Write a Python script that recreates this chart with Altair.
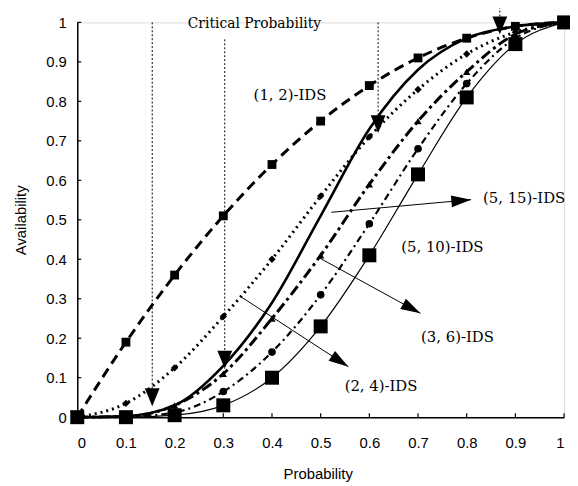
import math
import altair as alt
import pandas as pd

# ---------------- data ----------------
probability = [0.0, 0.1, 0.2, 0.3, 0.4, 0.5, 0.6, 0.7, 0.8, 0.9, 1.0]
avail_1_2 = [0.0, 0.19, 0.36, 0.51, 0.64, 0.75, 0.84, 0.91, 0.96, 0.99, 1.0]
avail_2_4 = [0.0, 0.035, 0.125, 0.255, 0.40, 0.56, 0.71, 0.83, 0.92, 0.975, 1.0]
avail_5_15 = [0.0, 0.003, 0.03, 0.13, 0.29, 0.51, 0.73, 0.88, 0.96, 0.99, 1.0]
avail_3_6 = [0.0, 0.002, 0.03, 0.11, 0.25, 0.41, 0.59, 0.75, 0.875, 0.97, 1.0]
avail_e = [0.0, 0.001, 0.012, 0.065, 0.165, 0.31, 0.49, 0.68, 0.845, 0.96, 1.0]
avail_5_10 = [0.0, 0.0, 0.005, 0.03, 0.10, 0.23, 0.41, 0.615, 0.81, 0.945, 1.0]

tick_values = [0.0, 0.1, 0.2, 0.3, 0.4, 0.5, 0.6, 0.7, 0.8, 0.9, 1.0]

critical_x = [0.154, 0.303, 0.618, 0.868]
critical_top = [1.0, 0.957, 1.0, 1.04]
critical_tip = [0.028, 0.123, 0.72, 0.97]

label_text = ["(1, 2)-IDS", "(5, 15)-IDS", "(5, 10)-IDS", "(3, 6)-IDS", "(2, 4)-IDS"]
label_x = [0.437, 0.918, 0.75, 0.781, 0.624]
label_y = [0.817, 0.554, 0.431, 0.203, 0.078]

arrow_x1 = [0.522, 0.498, 0.335]
arrow_y1 = [0.519, 0.403, 0.306]
arrow_x2 = [0.809, 0.705, 0.557]
arrow_y2 = [0.551, 0.263, 0.128]

title_text = ["Critical Probability"]
title_x = [0.364]
title_y = [0.995]

W, H = 492, 399

series = [
    ("a", avail_1_2, [10, 6], 3.0, "square", 80),
    ("b", avail_2_4, [2, 4], 3.0, "diamond", 55),
    ("c", avail_5_15, None, 2.6, None, 0),
    ("d", avail_3_6, [11, 4, 3, 4], 3.0, "triangle-up", 55),
    ("e", avail_e, [7, 4, 2, 4], 2.2, "circle", 60),
    ("f", avail_5_10, None, 1.2, "square", 200),
]

xs = alt.Scale(domain=[0, 1], nice=False, zero=False)
ys = alt.Scale(domain=[0, 1], nice=False, zero=False)

x_axis = alt.Axis(
    values=tick_values, format="~g", grid=False, ticks=False,
    domainColor="black", domainWidth=1.5,
    labelFont="Liberation Sans", labelFontSize=15, labelColor="black",
    labelPadding=19, title="Probability", titleFont="Liberation Sans",
    titleFontSize=15, titleFontWeight="normal", titleColor="black",
    titleX=243, titleY=57, titleBaseline="middle", titleAlign="center",
)
y_axis = alt.Axis(
    values=tick_values, format="~g", grid=False, ticks=False,
    domainColor="black", domainWidth=1.5,
    labelFont="Liberation Sans", labelFontSize=15, labelColor="black",
    labelPadding=11, title="Availability", titleFont="Liberation Sans",
    titleFontSize=15, titleFontWeight="normal", titleColor="black",
    titleX=-57, titleY=H / 2, titleAngle=270, titleBaseline="middle",
    titleAlign="center",
)


def X(field):
    return alt.X(field, scale=xs, axis=x_axis)


def Y(field):
    return alt.Y(field, scale=ys, axis=y_axis)


layers = []
for name, vals, dash, width, shape, size in series:
    df = pd.DataFrame({"p": probability, "a": vals})
    kw = dict(color="black", strokeWidth=width, interpolate="monotone")
    if dash:
        kw["strokeDash"] = dash
    layers.append(alt.Chart(df).mark_line(**kw).encode(x=X("p:Q"), y=Y("a:Q")))
    if shape:
        layers.append(alt.Chart(df).mark_point(
            shape=shape, size=size, filled=True, color="black", opacity=1
        ).encode(x=X("p:Q"), y=Y("a:Q")))

# inward ticks
tick_df = pd.DataFrame({"t": tick_values})
layers.append(alt.Chart(tick_df).mark_rule(color="black", strokeWidth=1.2).encode(
    x=X("t:Q"), y=alt.value(H), y2=alt.value(H - 4)))
layers.append(alt.Chart(tick_df).mark_rule(color="black", strokeWidth=1.2).encode(
    y=Y("t:Q"), x=alt.value(0), x2=alt.value(4)))

# critical probability lines
crit_df = pd.DataFrame({"x": critical_x, "top": critical_top, "tip": critical_tip})
layers.append(alt.Chart(crit_df).mark_rule(color="black", strokeWidth=1, strokeDash=[2, 2]).encode(
    x=X("x:Q"), y=Y("top:Q"), y2="tip:Q"))
tri_down = "M-0.75,-1.8L0.75,-1.8L0,0Z"
layers.append(alt.Chart(crit_df).mark_point(
    shape=tri_down, size=400, filled=True, color="black", opacity=1).encode(
    x=X("x:Q"), y=Y("tip:Q")))

# arrows
angles = []
for x1, y1, x2, y2 in zip(arrow_x1, arrow_y1, arrow_x2, arrow_y2):
    dx = (x2 - x1) * W
    dy = -(y2 - y1) * H
    angles.append((math.degrees(math.atan2(dy, dx)) + 360) % 360)
arr_df = pd.DataFrame({"x1": arrow_x1, "y1": arrow_y1, "x2": arrow_x2,
                       "y2": arrow_y2, "ang": angles})
layers.append(alt.Chart(arr_df).mark_rule(color="black", strokeWidth=1).encode(
    x=X("x1:Q"), y=Y("y1:Q"), x2="x2:Q", y2="y2:Q"))
arrow_head = "M-2,-0.6L0,0L-2,0.6Z"
layers.append(alt.Chart(arr_df).mark_point(
    shape=arrow_head, size=400, filled=True, color="black", opacity=1).encode(
    x=X("x2:Q"), y=Y("y2:Q"), angle=alt.Angle("ang:Q", scale=None)))

# labels
lab_df = pd.DataFrame({"t": label_text, "x": label_x, "y": label_y})
layers.append(alt.Chart(lab_df).mark_text(
    font="DejaVu Serif", fontSize=15, color="black", align="center", baseline="middle").encode(
    x=X("x:Q"), y=Y("y:Q"), text="t:N"))
tt_df = pd.DataFrame({"t": title_text, "x": title_x, "y": title_y})
layers.append(alt.Chart(tt_df).mark_text(
    font="DejaVu Serif", fontSize=14, color="black", align="center", baseline="middle").encode(
    x=X("x:Q"), y=Y("y:Q"), text="t:N"))

chart = alt.layer(*layers).properties(
    width=W, height=H,
    autosize=alt.AutoSizeParams(type="none"),
    padding={"left": 70, "top": 12, "right": 6, "bottom": 67},
).configure_view(stroke=None).configure(background="white")

chart.save("out.html", embed_options={"renderer": "svg", "actions": False})
